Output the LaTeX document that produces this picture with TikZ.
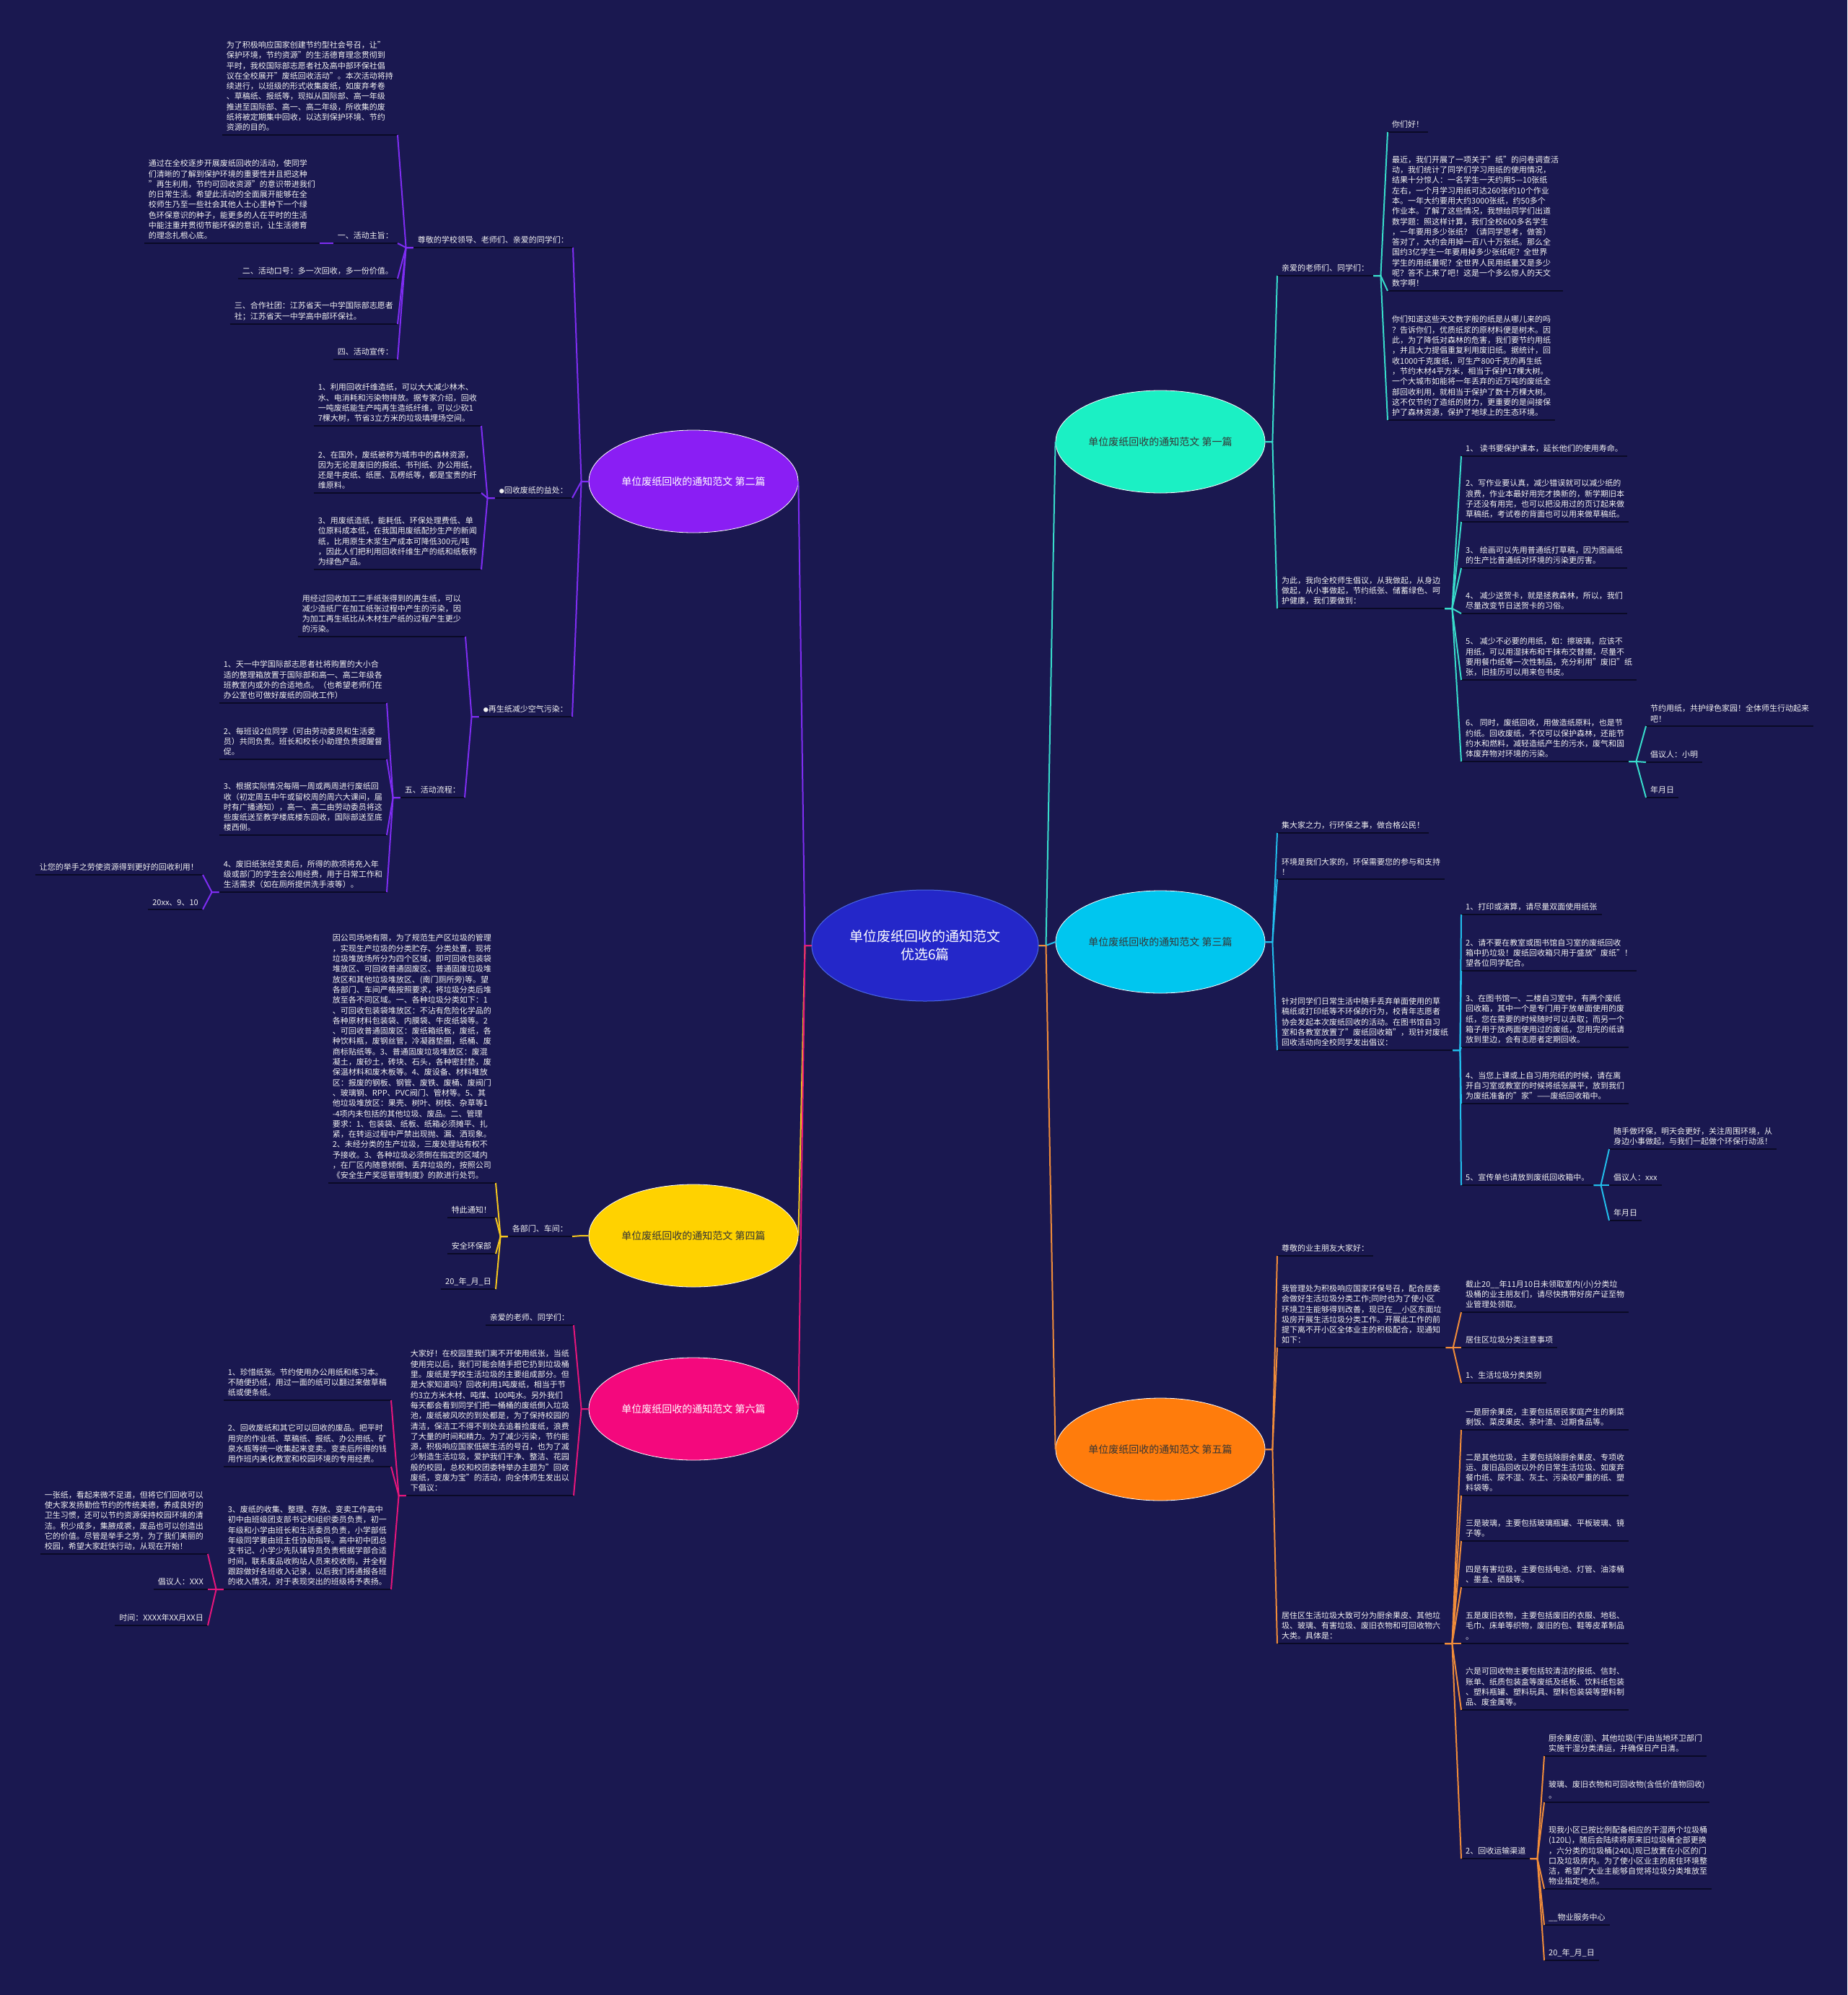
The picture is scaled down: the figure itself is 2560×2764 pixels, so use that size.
\documentclass[tikz,border=0pt]{standalone}
\usepackage{fontspec}
\setmainfont{Noto Sans CJK SC}
\usetikzlibrary{shapes.geometric}

\definecolor{bg}{HTML}{1A1850}
\definecolor{ulc}{HTML}{0A0A26}
\definecolor{txt}{HTML}{F2F2F2}
\definecolor{dk}{HTML}{353535}
\definecolor{rootf}{HTML}{2427C9}
\definecolor{rootd}{HTML}{4A66E6}
\definecolor{f1}{HTML}{1BF0C4}
\definecolor{k1}{HTML}{38DCCB}
\definecolor{f2}{HTML}{8A1EF4}
\definecolor{k2}{HTML}{7E2DF2}
\definecolor{f3}{HTML}{00C6EF}
\definecolor{k3}{HTML}{22BDEB}
\definecolor{f4}{HTML}{FFD200}
\definecolor{k4}{HTML}{F4C61E}
\definecolor{f5}{HTML}{FF7C0C}
\definecolor{k5}{HTML}{F08C3A}
\definecolor{f6}{HTML}{F4087D}
\definecolor{k6}{HTML}{E5167B}

\newcommand{\dotmark}{{\fontsize{7}{7}\selectfont ●}}

\begin{document}
\begin{tikzpicture}[x=1pt, y=-1pt,
  uline/.style={draw=ulc, line width=2pt},
  leaf/.style={font=\fontsize{11}{14.3}\selectfont, text=txt, align=left,
    inner xsep=6pt, inner ysep=5pt,
    append after command={(\tikzlastnode.south west) edge[uline] (\tikzlastnode.south east)}},
  rleaf/.style={leaf, anchor=south west},
  lleaf/.style={leaf, anchor=south east},
  topic/.style={ellipse, draw=white, line width=0.8pt, inner sep=0pt,
    minimum width=290pt, minimum height=142pt, font=\fontsize{14}{17}\selectfont},
  l1/.style={draw=k1, line width=2pt},
  l2/.style={draw=k2, line width=2pt},
  l3/.style={draw=k3, line width=2pt},
  l4/.style={draw=k4, line width=2pt},
  l5/.style={draw=k5, line width=2pt},
  l6/.style={draw=k6, line width=2pt}]

  \fill[bg] (0,0) rectangle (2560,2764);
  \useasboundingbox (0,0) rectangle (2560,2764);

  \node[ellipse, fill=rootf, draw=rootd, line width=1pt, inner sep=0pt,
    minimum width=314pt, minimum height=154pt, text=white, align=center,
    font=\fontsize{19}{25}\selectfont] (root) at (1282,1310) {单位废纸回收的通知范文\\优选6篇};

  \node[topic, fill=f1, text=dk] (e1) at (1608,612) {单位废纸回收的通知范文 第一篇};
  \node[topic, fill=f3, text=dk] (e3) at (1608,1305) {单位废纸回收的通知范文 第三篇};
  \node[topic, fill=f5, text=dk] (e5) at (1608,2008) {单位废纸回收的通知范文 第五篇};
  \node[topic, fill=f2, text=white] (e2) at (961,667) {单位废纸回收的通知范文 第二篇};
  \node[topic, fill=f4, text=dk] (e4) at (961,1712) {单位废纸回收的通知范文 第四篇};
  \node[topic, fill=f6, text=white] (e6) at (961,1952) {单位废纸回收的通知范文 第六篇};

  % 第一篇
  \node[rleaf] (n1a) at (1770,382) {亲爱的老师们、同学们：};
  \node[rleaf] (n1b) at (1770,843) {为此，我向全校师生倡议，从我做起，从身边\\做起，从小事做起，节约纸张、储蓄绿色、呵\\护健康，我们要做到：};
  \node[rleaf] (n1a1) at (1923,183) {你们好！};
  \node[rleaf] (n1a2) at (1923,403) {最近，我们开展了一项关于"纸"的问卷调查活\\动，我们统计了同学们学习用纸的使用情况，\\结果十分惊人：一名学生一天约用5—10张纸\\左右，一个月学习用纸可达260张约10个作业\\本。一年大约要用大约3000张纸，约50多个\\作业本。了解了这些情况，我想给同学们出道\\数学题：照这样计算，我们全校600多名学生\\，一年要用多少张纸？（请同学思考，做答）\\答对了，大约会用掉一百八十万张纸。那么全\\国约3亿学生一年要用掉多少张纸呢？全世界\\学生的用纸量呢？全世界人民用纸量又是多少\\呢？答不上来了吧！这是一个多么惊人的天文\\数字啊！};
  \node[rleaf] (n1a3) at (1923,582) {你们知道这些天文数字般的纸是从哪儿来的吗\\？告诉你们，优质纸浆的原材料便是树木。因\\此，为了降低对森林的危害，我们要节约用纸\\，并且大力提倡重复利用废旧纸。据统计，回\\收1000千克废纸，可生产800千克的再生纸\\，节约木材4平方米，相当于保护17棵大树。\\一个大城市如能将一年丢弃的近万吨的废纸全\\部回收利用，就相当于保护了数十万棵大树。\\这不仅节约了造纸的财力，更重要的是间接保\\护了森林资源，保护了地球上的生态环境。};
  \node[rleaf] (n1b1) at (2025,632) {1、 读书要保护课本，延长他们的使用寿命。};
  \node[rleaf] (n1b2) at (2025,723) {2、写作业要认真，减少错误就可以减少纸的\\浪费，作业本最好用完才换新的，新学期旧本\\子还没有用完，也可以把没用过的页订起来做\\草稿纸，考试卷的背面也可以用来做草稿纸。};
  \node[rleaf] (n1b3) at (2025,787) {3、 绘画可以先用普通纸打草稿，因为图画纸\\的生产比普通纸对环境的污染更厉害。};
  \node[rleaf] (n1b4) at (2025,850) {4、 减少送贺卡，就是拯救森林，所以，我们\\尽量改变节日送贺卡的习俗。};
  \node[rleaf] (n1b5) at (2025,942) {5、 减少不必要的用纸，如：擦玻璃，应该不\\用纸，可以用湿抹布和干抹布交替擦，尽量不\\要用餐巾纸等一次性制品，充分利用"废旧"纸\\张，旧挂历可以用来包书皮。};
  \node[rleaf] (n1b6) at (2025,1055) {6、 同时，废纸回收，用做造纸原料，也是节\\约纸。回收废纸，不仅可以保护森林，还能节\\约水和燃料，减轻造纸产生的污水，废气和固\\体废弃物对环境的污染。};
  \node[rleaf] (n1c1) at (2281,1006) {节约用纸，共护绿色家园！全体师生行动起来\\吧！};
  \node[rleaf] (n1c2) at (2281,1056) {倡议人：小明};
  \node[rleaf] (n1c3) at (2281,1105) {年月日};

  % 第三篇
  \node[rleaf] (n3a) at (1770,1154) {集大家之力，行环保之事，做合格公民！};
  \node[rleaf] (n3b) at (1770,1218) {环境是我们大家的，环保需要您的参与和支持\\！};
  \node[rleaf] (n3c) at (1770,1455) {针对同学们日常生活中随手丢弃单面使用的草\\稿纸或打印纸等不环保的行为，校青年志愿者\\协会发起本次废纸回收的活动。在图书馆自习\\室和各教室放置了"废纸回收箱"，现针对废纸\\回收活动向全校同学发出倡议：};
  \node[rleaf] (n3c1) at (2025,1267) {1、打印或演算，请尽量双面使用纸张};
  \node[rleaf] (n3c2) at (2025,1345) {2、请不要在教室或图书馆自习室的废纸回收\\箱中扔垃圾！废纸回收箱只用于盛放"废纸"！\\望各位同学配合。};
  \node[rleaf] (n3c3) at (2025,1451) {3、在图书馆一、二楼自习室中，有两个废纸\\回收箱，其中一个是专门用于放单面使用的废\\纸，您在需要的时候随时可以去取；而另一个\\箱子用于放两面使用过的废纸，您用完的纸请\\放到里边，会有志愿者定期回收。};
  \node[rleaf] (n3c4) at (2025,1529) {4、当您上课或上自习用完纸的时候，请在离\\开自习室或教室的时候将纸张展平，放到我们\\为废纸准备的"家"——废纸回收箱中。};
  \node[rleaf] (n3c5) at (2025,1642) {5、宣传单也请放到废纸回收箱中。};
  \node[rleaf] (n3d1) at (2230,1592) {随手做环保，明天会更好，关注周围环境，从\\身边小事做起，与我们一起做个环保行动派！};
  \node[rleaf] (n3d2) at (2230,1642) {倡议人：xxx};
  \node[rleaf] (n3d3) at (2230,1691) {年月日};

  % 第五篇
  \node[rleaf] (n5a) at (1770,1740) {尊敬的业主朋友大家好：};
  \node[rleaf] (n5b) at (1770,1867) {我管理处为积极响应国家环保号召，配合居委\\会做好生活垃圾分类工作;同时也为了使小区\\环境卫生能够得到改善，现已在\_\_小区东面垃\\圾房开展生活垃圾分类工作。开展此工作的前\\提下离不开小区全体业主的积极配合，现通知\\如下：};
  \node[rleaf] (n5c) at (1770,2277) {居住区生活垃圾大致可分为厨余果皮、其他垃\\圾、玻璃、有害垃圾、废旧衣物和可回收物六\\大类。具体是：};
  \node[rleaf] (n5b1) at (2025,1818) {截止20\_\_年11月10日未领取室内(小)分类垃\\圾桶的业主朋友们，请尽快携带好房产证至物\\业管理处领取。};
  \node[rleaf] (n5b2) at (2025,1867) {居住区垃圾分类注意事项};
  \node[rleaf] (n5b3) at (2025,1916) {1、生活垃圾分类类别};
  \node[rleaf] (n5c1) at (2025,1981) {一是厨余果皮，主要包括居民家庭产生的剩菜\\剩饭、菜皮果皮、茶叶渣、过期食品等。};
  \node[rleaf] (n5c2) at (2025,2072) {二是其他垃圾，主要包括除厨余果皮、专项收\\运、废旧品回收以外的日常生活垃圾、如废弃\\餐巾纸、尿不湿、灰土、污染较严重的纸、塑\\料袋等。};
  \node[rleaf] (n5c3) at (2025,2135) {三是玻璃，主要包括玻璃瓶罐、平板玻璃、镜\\子等。};
  \node[rleaf] (n5c4) at (2025,2199) {四是有害垃圾，主要包括电池、灯管、油漆桶\\、墨盒、硒鼓等。};
  \node[rleaf] (n5c5) at (2025,2277) {五是废旧衣物，主要包括废旧的衣服、地毯、\\毛巾、床单等织物，废旧的包、鞋等皮革制品\\。};
  \node[rleaf] (n5c6) at (2025,2369) {六是可回收物主要包括较清洁的报纸、信封、\\账单、纸质包装盒等废纸及纸板、饮料纸包装\\、塑料瓶罐、塑料玩具、塑料包装袋等塑料制\\品、废金属等。};
  \node[rleaf] (n5c7) at (2025,2575) {2、回收运输渠道};
  \node[rleaf] (n5d1) at (2140,2433) {厨余果皮(湿)、其他垃圾(干)由当地环卫部门\\实施干湿分类清运，并确保日产日清。};
  \node[rleaf] (n5d2) at (2140,2497) {玻璃、废旧衣物和可回收物(含低价值物回收)\\。};
  \node[rleaf] (n5d3) at (2140,2617) {现我小区已按比例配备相应的干湿两个垃圾桶\\(120L)，随后会陆续将原来旧垃圾桶全部更换\\，六分类的垃圾桶(240L)现已放置在小区的门\\口及垃圾房内。为了使小区业主的居住环境整\\洁，希望广大业主能够自觉将垃圾分类堆放至\\物业指定地点。};
  \node[rleaf] (n5d4) at (2140,2667) {\_\_物业服务中心};
  \node[rleaf] (n5d5) at (2140,2716) {20\_年\_月\_日};

  % 第二篇
  \node[lleaf] (n2a) at (794,343) {尊敬的学校领导、老师们、亲爱的同学们：};
  \node[lleaf] (n2b) at (793,690) {\dotmark 回收废纸的益处：};
  \node[lleaf] (n2c) at (793,993) {\dotmark 再生纸减少空气污染：};
  \node[lleaf] (n2a1) at (551,187) {为了积极响应国家创建节约型社会号召，让"\\保护环境，节约资源"的生活德育理念贯彻到\\平时，我校国际部志愿者社及高中部环保社倡\\议在全校展开"废纸回收活动"。本次活动将持\\续进行，以班级的形式收集废纸，如废弃考卷\\、草稿纸、报纸等，现拟从国际部、高一年级\\推进至国际部、高一、高二年级，所收集的废\\纸将被定期集中回收，以达到保护环境、节约\\资源的目的。};
  \node[lleaf] (n2a2) at (551,337) {一、活动主旨：};
  \node[lleaf] (n2a3) at (551,386) {二、活动口号：多一次回收，多一份价值。};
  \node[lleaf] (n2a4) at (551,449) {三、合作社团：江苏省天一中学国际部志愿者\\社；江苏省天一中学高中部环保社。};
  \node[lleaf] (n2a5) at (551,498) {四、活动宣传：};
  \node[lleaf] (n2a2x) at (443,337) {通过在全校逐步开展废纸回收的活动，使同学\\们清晰的了解到保护环境的重要性并且把这种\\"再生利用，节约可回收资源"的意识带进我们\\的日常生活。希望此活动的全面展开能够在全\\校师生乃至一些社会其他人士心里种下一个绿\\色环保意识的种子，能更多的人在平时的生活\\中能注重并贯彻节能环保的意识，让生活德育\\的理念扎根心底。};
  \node[lleaf] (n2b1) at (667,590) {1、利用回收纤维造纸，可以大大减少林木、\\水、电消耗和污染物排放。据专家介绍，回收\\一吨废纸能生产吨再生造纸纤维，可以少砍1\\7棵大树，节省3立方米的垃圾填埋场空间。};
  \node[lleaf] (n2b2) at (667,683) {2、在国外，废纸被称为城市中的森林资源，\\因为无论是废旧的报纸、书刊纸、办公用纸，\\还是牛皮纸、纸匣、瓦楞纸等，都是宝贵的纤\\维原料。};
  \node[lleaf] (n2b3) at (667,789) {3、用废纸造纸，能耗低、环保处理费低、单\\位原料成本低，在我国用废纸配抄生产的新闻\\纸，比用原生木浆生产成本可降低300元/吨\\，因此人们把利用回收纤维生产的纸和纸板称\\为绿色产品。};
  \node[lleaf] (n2c1) at (645,882) {用经过回收加工二手纸张得到的再生纸，可以\\减少造纸厂在加工纸张过程中产生的污染，因\\为加工再生纸比从木材生产纸的过程产生更少\\的污染。};
  \node[lleaf] (n2c2) at (644,1105) {五、活动流程：};
  \node[lleaf] (n2d1) at (536,974) {1、天一中学国际部志愿者社将购置的大小合\\适的整理箱放置于国际部和高一、高二年级各\\班教室内或外的合适地点。（也希望老师们在\\办公室也可做好废纸的回收工作）};
  \node[lleaf] (n2d2) at (536,1052) {2、每班设2位同学（可由劳动委员和生活委\\员）共同负责。班长和校长小助理负责提醒督\\促。};
  \node[lleaf] (n2d3) at (536,1157) {3、根据实际情况每隔一周或两周进行废纸回\\收（初定周五中午或留校周的周六大课间，届\\时有广播通知），高一、高二由劳动委员将这\\些废纸送至教学楼底楼东回收，国际部送至底\\楼西侧。};
  \node[lleaf] (n2d4) at (536,1236) {4、废旧纸张经变卖后，所得的款项将充入年\\级或部门的学生会公用经费，用于日常工作和\\生活需求（如在厕所提供洗手液等）。};
  \node[lleaf] (n2e1) at (281,1212) {让您的举手之劳使资源得到更好的回收利用！};
  \node[lleaf] (n2e2) at (281,1260) {20xx、9、10};

  % 第四篇
  \node[lleaf] (n4a) at (793,1713) {各部门、车间：};
  \node[lleaf] (n4a1) at (687,1639) {因公司场地有限，为了规范生产区垃圾的管理\\，实现生产垃圾的分类贮存、分类处置，现将\\垃圾堆放场所分为四个区域，即可回收包装袋\\堆放区、可回收普通固废区、普通固废垃圾堆\\放区和其他垃圾堆放区、(南门厕所旁)等。望\\各部门、车间严格按照要求，将垃圾分类后堆\\放至各不同区域。一、各种垃圾分类如下：1\\、可回收包装袋堆放区：不沾有危险化学品的\\各种原材料包装袋、内膜袋、牛皮纸袋等。2\\、可回收普通固废区：废纸箱纸板，废纸，各\\种饮料瓶，废钢丝管，冷凝器垫圈，纸桶、废\\商标贴纸等。3、普通固废垃圾堆放区：废混\\凝土，废砂土，砖块、石头，各种密封垫，废\\保温材料和废木板等。4、废设备、材料堆放\\区：报废的钢板、钢管、废铁、废桶、废阀门\\、玻璃钢、RPP、PVC阀门、管材等。5、其\\他垃圾堆放区：果壳、树叶、树枝、杂草等1\\-4项内未包括的其他垃圾、废品。二、管理\\要求：1、包装袋、纸板、纸箱必须摊平、扎\\紧，在转运过程中严禁出现抛、漏、洒现象。\\2、未经分类的生产垃圾，三废处理站有权不\\予接收。3、各种垃圾必须倒在指定的区域内\\，在厂区内随意倾倒、丢弃垃圾的，按照公司\\《安全生产奖惩管理制度》的款进行处罚。};
  \node[lleaf] (n4a2) at (687,1687) {特此通知！};
  \node[lleaf] (n4a3) at (687,1737) {安全环保部};
  \node[lleaf] (n4a4) at (687,1786) {20\_年\_月\_日};

  % 第六篇
  \node[lleaf] (n6a) at (795,1836) {亲爱的老师、同学们：};
  \node[lleaf] (n6b) at (795,2072) {大家好！在校园里我们离不开使用纸张，当纸\\使用完以后，我们可能会随手把它扔到垃圾桶\\里。废纸是学校生活垃圾的主要组成部分。但\\是大家知道吗？回收利用1吨废纸，相当于节\\约3立方米木材、吨煤、100吨水。另外我们\\每天都会看到同学们把一桶桶的废纸倒入垃圾\\池，废纸被风吹的到处都是，为了保持校园的\\清洁，保洁工不得不到处去追着捡废纸，浪费\\了大量的时间和精力。为了减少污染，节约能\\源，积极响应国家低碳生活的号召，也为了减\\少制造生活垃圾，爱护我们干净、整洁、花园\\般的校园，总校和校团委特举办主题为"回收\\废纸，变废为宝"的活动，向全体师生发出以\\下倡议：};
  \node[lleaf] (n6b1) at (542,1940) {1、珍惜纸张。节约使用办公用纸和练习本。\\不随便扔纸，用过一面的纸可以翻过来做草稿\\纸或便条纸。};
  \node[lleaf] (n6b2) at (542,2032) {2、回收废纸和其它可以回收的废品。把平时\\用完的作业纸、草稿纸、报纸、办公用纸、矿\\泉水瓶等统一收集起来变卖。变卖后所得的钱\\用作班内美化教室和校园环境的专用经费。};
  \node[lleaf] (n6b3) at (542,2202) {3、废纸的收集、整理、存放、变卖工作高中\\初中由班级团支部书记和组织委员负责，初一\\年级和小学由班长和生活委员负责，小学部低\\年级同学要由班主任协助指导。高中初中团总\\支书记、小学少先队辅导员负责根据学部合适\\时间，联系废品收购站人员来校收购，并全程\\跟踪做好各班收入记录，以后我们将通报各班\\的收入情况，对于表现突出的班级将予表扬。};
  \node[lleaf] (n6c1) at (288,2153) {一张纸，看起来微不足道，但将它们回收可以\\使大家发扬勤俭节约的传统美德，养成良好的\\卫生习惯，还可以节约资源保持校园环境的清\\洁。积少成多，集腋成裘，废品也可以创造出\\它的价值。尽管是举手之劳，为了我们美丽的\\校园，希望大家赶快行动，从现在开始！};
  \node[lleaf] (n6c2) at (288,2202) {倡议人：XXX};
  \node[lleaf] (n6c3) at (288,2252) {时间：XXXX年XX月XX日};

  % connectors
  \draw[l1] (root.east) -- ++(10,0) -- (e1.west);
  \draw[l3] (root.east) -- ++(10,0) -- (e3.west);
  \draw[l5] (root.east) -- ++(10,0) -- (e5.west);
  \draw[l2] (root.west) -- ++(-9,0) -- (e2.east);
  \draw[l4] (root.west) -- ++(-9,0) -- (e4.east);
  \draw[l6] (root.west) -- ++(-9,0) -- (e6.east);

  \foreach \c in {n1a,n1b} \draw[l1] (e1.east) -- ++(10,0) -- (\c.south west);
  \foreach \c in {n1a1,n1a2,n1a3} \draw[l1] (n1a.south east) -- ++(10,0) -- (\c.south west);
  \foreach \c in {n1b1,n1b2,n1b3,n1b4,n1b5,n1b6} \draw[l1] (n1b.south east) -- ++(10,0) -- (\c.south west);
  \foreach \c in {n1c1,n1c2,n1c3} \draw[l1] (n1b6.south east) -- ++(10,0) -- (\c.south west);

  \foreach \c in {n3a,n3b,n3c} \draw[l3] (e3.east) -- ++(10,0) -- (\c.south west);
  \foreach \c in {n3c1,n3c2,n3c3,n3c4,n3c5} \draw[l3] (n3c.south east) -- ++(10,0) -- (\c.south west);
  \foreach \c in {n3d1,n3d2,n3d3} \draw[l3] (n3c5.south east) -- ++(10,0) -- (\c.south west);

  \foreach \c in {n5a,n5b,n5c} \draw[l5] (e5.east) -- ++(10,0) -- (\c.south west);
  \foreach \c in {n5b1,n5b2,n5b3} \draw[l5] (n5b.south east) -- ++(10,0) -- (\c.south west);
  \foreach \c in {n5c1,n5c2,n5c3,n5c4,n5c5,n5c6,n5c7} \draw[l5] (n5c.south east) -- ++(10,0) -- (\c.south west);
  \foreach \c in {n5d1,n5d2,n5d3,n5d4,n5d5} \draw[l5] (n5c7.south east) -- ++(10,0) -- (\c.south west);

  \foreach \c in {n2a,n2b,n2c} \draw[l2] (e2.west) -- ++(-10,0) -- (\c.south east);
  \foreach \c in {n2a1,n2a2,n2a3,n2a4,n2a5} \draw[l2] (n2a.south west) -- ++(-10,0) -- (\c.south east);
  \draw[l2] (n2a2.south west) -- ++(-10,0) -- (n2a2x.south east);
  \foreach \c in {n2b1,n2b2,n2b3} \draw[l2] (n2b.south west) -- ++(-10,0) -- (\c.south east);
  \foreach \c in {n2c1,n2c2} \draw[l2] (n2c.south west) -- ++(-10,0) -- (\c.south east);
  \foreach \c in {n2d1,n2d2,n2d3,n2d4} \draw[l2] (n2c2.south west) -- ++(-10,0) -- (\c.south east);
  \foreach \c in {n2e1,n2e2} \draw[l2] (n2d4.south west) -- ++(-10,0) -- (\c.south east);

  \draw[l4] (e4.west) -- ++(-10,0) -- (n4a.south east);
  \foreach \c in {n4a1,n4a2,n4a3,n4a4} \draw[l4] (n4a.south west) -- ++(-10,0) -- (\c.south east);

  \foreach \c in {n6a,n6b} \draw[l6] (e6.west) -- ++(-10,0) -- (\c.south east);
  \foreach \c in {n6b1,n6b2,n6b3} \draw[l6] (n6b.south west) -- ++(-10,0) -- (\c.south east);
  \foreach \c in {n6c1,n6c2,n6c3} \draw[l6] (n6b3.south west) -- ++(-10,0) -- (\c.south east);
\end{tikzpicture}
\end{document}
